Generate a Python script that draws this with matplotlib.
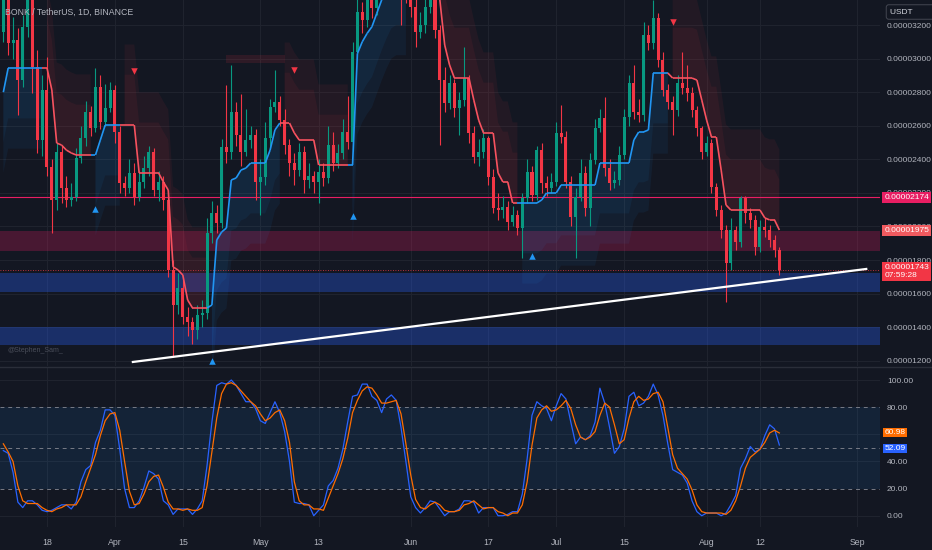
import matplotlib
matplotlib.use("Agg")
import matplotlib.pyplot as plt
from matplotlib.lines import Line2D
from matplotlib.patches import Rectangle
import matplotlib.dates as mdates
import numpy as np
import pandas as pd

plt.rcParams['font.family'] = ['Liberation Sans', 'DejaVu Sans']

# BONK/USDT daily candles, prices in units of 1e-8 USDT
start_day = '2024-03-09'
open_ = [3158, 3408, 3093, 3111, 2872, 3188, 3397, 2950, 2515, 2813,
         2354, 2158, 2444, 2229, 2158, 2176, 2408, 2527, 2682, 2587,
         2831, 2622, 2706, 2813, 2563, 2259, 2229, 2319, 2176, 2265,
         2348, 2444, 2217, 2265, 2158, 1741, 1532, 1634, 1461, 1431,
         1384, 1473, 1485, 1961, 2080, 2021, 2473, 2444, 2682, 2545,
         2444, 2515, 2545, 2265, 2295, 2527, 2712, 2741, 2634, 2485,
         2378, 2336, 2444, 2277, 2301, 2265, 2324, 2289, 2485, 2378,
         2438, 2563, 2503, 3039, 3277, 3230, 3349, 3301, 3468, 3557,
         3617, 3528, 3647, 3498, 3438, 3307, 3158, 3200, 3307, 3367,
         3170, 2872, 2735, 2855, 2706, 2753, 2884, 2557, 2414, 2444,
         2527, 2295, 2110, 2098, 2116, 2027, 2068, 1991, 2170, 2324,
         2188, 2455, 2259, 2229, 2265, 2557, 2533, 2265, 2057, 2176,
         2319, 2110, 2396, 2587, 2646, 2348, 2259, 2277, 2426, 2652,
         2855, 2682, 2664, 3140, 3093, 3242, 2992, 2813, 2741, 2694,
         2855, 2825, 2795, 2694, 2587, 2444, 2497, 2235, 2098, 1979,
         1782, 1979, 1908, 2170, 2080, 2039, 1878, 1997, 1979, 1919,
         1860]
high = [3480, 3460, 3250, 3180, 3260, 3500, 3450, 3051, 2900, 3010,
        2400, 2500, 2480, 2300, 2260, 2470, 2600, 2750, 2720, 2944,
        2900, 2850, 2860, 2840, 2600, 2300, 2400, 2380, 2330, 2420,
        2480, 2470, 2330, 2300, 2200, 1800, 1720, 1700, 1520, 1460,
        1530, 1560, 2050, 2150, 2130, 2520, 2843, 2962, 2740, 2790,
        2700, 2600, 2580, 2400, 2620, 2760, 2932, 2780, 2700, 2520,
        2440, 2500, 2480, 2380, 2330, 2400, 2380, 2600, 2560, 2490,
        2640, 2780, 3100, 3380, 3340, 3420, 3450, 3560, 3650, 3720,
        3680, 3760, 3690, 3560, 3500, 3360, 3280, 3380, 3450, 3420,
        3200, 2950, 2900, 2880, 2800, 3069, 2900, 2600, 2520, 2580,
        2540, 2340, 2200, 2180, 2150, 2120, 2100, 2200, 2400, 2360,
        2480, 2500, 2300, 2320, 2620, 2724, 2570, 2300, 2230, 2400,
        2360, 2440, 2640, 2700, 2771, 2400, 2330, 2480, 2700, 2900,
        2960, 2760, 3218, 3200, 3349, 3270, 3040, 2850, 2780, 2900,
        3039, 2960, 2830, 2720, 2600, 2540, 2520, 2260, 2130, 2010,
        2050, 2000, 2180, 2180, 2110, 2070, 2040, 2050, 2010, 1950,
        1880]
low = [3100, 3020, 3000, 2664, 2831, 3130, 2795, 2438, 2420, 2300,
       1961, 2100, 2140, 2116, 2120, 2150, 2380, 2480, 2540, 2560,
       2580, 2600, 2680, 2500, 2200, 2180, 2200, 2128, 2150, 2230,
       2300, 2180, 2150, 2100, 1700, 1223, 1480, 1420, 1350, 1300,
       1330, 1400, 1450, 1900, 1960, 1990, 2380, 2400, 2480, 2360,
       2420, 2470, 2158, 2068, 2250, 2470, 2680, 2600, 2430, 2300,
       2250, 2300, 2200, 2230, 2200, 2140, 2240, 2260, 2330, 2350,
       2400, 2460, 2450, 2990, 3150, 3190, 3240, 3260, 3420, 3500,
       3460, 3480, 3200, 3330, 3250, 3069, 3120, 3150, 3270, 3120,
       2485, 2680, 2700, 2650, 2545, 2720, 2500, 2380, 2360, 2410,
       2250, 2080, 2040, 2050, 1980, 2000, 1950, 1812, 2140, 2150,
       2160, 2200, 2180, 2200, 2240, 2500, 2230, 2000, 1812, 2150,
       2060, 2000, 2370, 2560, 2300, 2220, 2230, 2250, 2400, 2600,
       2640, 2620, 2630, 3050, 3060, 2950, 2780, 2700, 2545, 2660,
       2790, 2750, 2650, 2540, 2400, 2420, 2200, 2060, 1930, 1550,
       1740, 1860, 1880, 2020, 1990, 1830, 1850, 1940, 1880, 1820,
       1711]
close = [3408, 3093, 3111, 2872, 3188, 3397, 2950, 2515, 2813, 2354,
         2158, 2444, 2229, 2158, 2176, 2408, 2527, 2682, 2587, 2831,
         2622, 2706, 2813, 2563, 2259, 2229, 2319, 2176, 2265, 2348,
         2444, 2217, 2265, 2158, 1741, 1532, 1634, 1461, 1431, 1384,
         1473, 1485, 1961, 2080, 2021, 2473, 2444, 2682, 2545, 2444,
         2515, 2545, 2265, 2295, 2527, 2712, 2741, 2634, 2485, 2378,
         2336, 2444, 2277, 2301, 2265, 2324, 2289, 2485, 2378, 2438,
         2563, 2503, 3039, 3277, 3230, 3349, 3301, 3468, 3557, 3617,
         3528, 3647, 3498, 3438, 3307, 3158, 3200, 3307, 3367, 3170,
         2872, 2735, 2855, 2706, 2753, 2884, 2557, 2414, 2444, 2527,
         2295, 2110, 2098, 2116, 2027, 2068, 1991, 2170, 2324, 2188,
         2455, 2259, 2229, 2265, 2557, 2533, 2265, 2057, 2176, 2319,
         2110, 2396, 2587, 2646, 2348, 2259, 2277, 2426, 2652, 2855,
         2682, 2664, 3140, 3093, 3242, 2992, 2813, 2741, 2694, 2855,
         2825, 2795, 2694, 2587, 2444, 2497, 2235, 2098, 1979, 1782,
         1979, 1908, 2170, 2080, 2039, 1878, 1997, 1979, 1919, 1860,
         1743]

# trailing stop line (supertrend style) and its direction, 1 = up, -1 = down
st_val = [2800, 2944, 2944, 2944, 2944, 2944, 2944, 2944, 2944, 2944,
          2813, 2497, 2485, 2455, 2438, 2426, 2426, 2426, 2426, 2426,
          2515, 2604, 2604, 2604, 2604, 2604, 2604, 2604, 2319, 2319,
          2319, 2319, 2319, 2265, 2217, 1759, 1741, 1711, 1562, 1515,
          1515, 1515, 1515, 1532, 1919, 1967, 1991, 2277, 2289, 2336,
          2348, 2378, 2378, 2378, 2378, 2455, 2575, 2616, 2616, 2616,
          2557, 2515, 2515, 2515, 2515, 2366, 2366, 2366, 2366, 2366,
          2366, 2366, 2366, 3030, 3100, 3150, 3190, 3270, 3349, 3420,
          3480, 3500, 3500, 3500, 3800, 3800, 3700, 3650, 3600, 3450,
          3349, 3081, 2962, 2884, 2884, 2884, 2884, 2753, 2634, 2557,
          2557, 2557, 2319, 2265, 2265, 2140, 2140, 2140, 2140, 2140,
          2140, 2158, 2200, 2200, 2200, 2247, 2247, 2247, 2247, 2247,
          2247, 2247, 2247, 2378, 2378, 2378, 2378, 2378, 2378, 2378,
          2515, 2563, 2563, 2575, 2914, 2914, 2914, 2914, 2884, 2884,
          2884, 2884, 2884, 2872, 2753, 2634, 2533, 2533, 2336, 2128,
          2098, 2098, 2098, 2098, 2098, 2098, 2098, 2051, 2039, 2039,
          1979]
st_dir = [1, 1, 1, 1, 1, 1, 1, 1, 1, -1,
          -1, -1, -1, -1, -1, -1, -1, -1, -1, 1,
          1, 1, 1, 1, 1, -1, -1, -1, -1, -1,
          -1, -1, -1, -1, -1, -1, -1, -1, -1, -1,
          -1, -1, -1, 1, 1, 1, 1, 1, 1, 1,
          1, 1, 1, 1, 1, 1, 1, 1, -1, -1,
          -1, -1, -1, -1, -1, -1, -1, -1, -1, -1,
          -1, -1, 1, 1, 1, 1, 1, 1, 1, 1,
          1, 1, 1, 1, -1, -1, -1, -1, -1, -1,
          -1, -1, -1, -1, -1, -1, -1, -1, -1, -1,
          -1, -1, -1, -1, -1, -1, -1, 1, 1, 1,
          1, 1, 1, 1, 1, 1, 1, 1, 1, 1,
          1, 1, 1, 1, 1, 1, 1, 1, 1, 1,
          1, 1, 1, 1, 1, 1, 1, 1, -1, -1,
          -1, -1, -1, -1, -1, -1, -1, -1, -1, -1,
          -1, -1, -1, -1, -1, -1, -1, -1, -1, -1,
          -1]

# Stochastic RSI
stoch_k = [48, 46, 32, 10, 6, 11, 11, 8, 4, 3,
           4, 6, 8, 8, 5, 10, 25, 34, 37, 54,
           63, 78, 78, 74, 49, 20, 6, 6, 11, 21,
           33, 31, 27, 11, 8, 1, 5, 5, 5, 1,
           5, 11, 37, 69, 96, 98, 97, 100, 96, 90,
           84, 84, 79, 70, 68, 76, 84, 76, 62, 40,
           10, 9, 9, 8, 0, 4, 8, 22, 26, 35,
           49, 69, 88, 89, 97, 97, 88, 85, 76, 86,
           89, 85, 65, 40, 14, 6, 2, 6, 11, 10,
           5, 0, 3, 3, 5, 11, 11, 10, 2, 6,
           6, 6, 0, 0, 1, 3, 3, 16, 42, 74,
           84, 81, 79, 70, 81, 90, 86, 69, 53, 58,
           56, 59, 69, 94, 83, 65, 46, 51, 64, 88,
           91, 81, 83, 88, 97, 89, 74, 53, 34, 32,
           30, 24, 11, 3, 0, 2, 2, 2, 0, 2,
           8, 15, 35, 42, 51, 47, 49, 59, 67, 64,
           52.09]
stoch_d = [53, 47, 40, 22, 11, 9, 9, 9, 6, 4,
           3, 5, 6, 8, 8, 8, 14, 25, 35, 45,
           59, 70, 75, 76, 63, 40, 18, 8, 9, 16,
           25, 29, 30, 21, 10, 5, 5, 4, 5, 4,
           4, 6, 22, 47, 72, 90, 97, 98, 96, 92,
           88, 84, 81, 75, 70, 72, 76, 78, 70, 54,
           25, 11, 8, 8, 5, 5, 4, 13, 22, 31,
           42, 57, 76, 85, 92, 95, 94, 89, 83, 83,
           84, 85, 75, 53, 30, 12, 6, 5, 8, 10,
           8, 4, 3, 3, 4, 8, 9, 11, 8, 5,
           6, 6, 3, 2, 0, 2, 2, 8, 25, 52,
           72, 78, 81, 77, 78, 81, 85, 79, 67, 58,
           56, 58, 62, 74, 83, 80, 67, 53, 56, 72,
           84, 88, 85, 86, 90, 91, 84, 65, 45, 35,
           31, 27, 19, 8, 3, 2, 2, 2, 2, 1,
           4, 11, 22, 35, 43, 46, 49, 54, 61, 63,
           60.98]

buy_days = ['2024-03-28', '2024-04-21', '2024-05-20', '2024-06-26']
buy_px = [2104, 1199, 2062, 1824]
sell_days = ['2024-04-05', '2024-05-08', '2024-07-25']
sell_px = [2926, 2932, 3218]

trend_days = ['2024-04-04 17:00', '2024-09-02 22:00']
trend_px = [1193, 1747]

resist_line = 2174
red_zone = (1855, 1975)
blue_zones = [(1610, 1723), (1294, 1401)]
last_px = 1743

tick_days = ['2024-03-18', '2024-04-01', '2024-04-15', '2024-05-01', '2024-05-13', '2024-06-01',
             '2024-06-17', '2024-07-01', '2024-07-15', '2024-08-01', '2024-08-12', '2024-09-01']
tick_names = ['18', 'Apr', '15', 'May', '13', 'Jun', '17', 'Jul', '15', 'Aug', '12', 'Sep']

BG = '#131722'
GRID = '#20242f'
TXT = '#b2b5be'
UP = '#089981'
DOWN = '#f23645'

n = min(len(open_), len(high), len(low), len(close), len(st_val), len(st_dir), len(stoch_k), len(stoch_d))
dates = pd.date_range(start_day, periods=n, freq='D')
x = mdates.date2num(dates)
o = np.array(open_[:n], float)
h = np.array(high[:n], float)
l = np.array(low[:n], float)
c = np.array(close[:n], float)
st = np.array(st_val[:n], float)
sd = np.array(st_dir[:n])

fig = plt.figure(figsize=(9.32, 5.5), dpi=100, facecolor=BG)
W, H = 932, 550
ax1 = fig.add_axes([0, 184 / H, 880 / W, 366 / H], facecolor=BG)
ax2 = fig.add_axes([0, 23 / H, 880 / W, 160 / H], facecolor=BG)

xmin = mdates.date2num(pd.Timestamp('2024-03-08 07:30'))
xmax = mdates.date2num(pd.Timestamp('2024-09-05 18:00'))
tick_x = mdates.date2num(pd.to_datetime(tick_days))

for ax in (ax1, ax2):
    ax.set_xlim(xmin, xmax)
    for s in ax.spines.values():
        s.set_visible(False)
    ax.set_xticks(tick_x)
    ax.grid(True, color=GRID, lw=0.7)
    ax.set_axisbelow(True)
    ax.yaxis.tick_right()
    ax.tick_params(axis='y', length=0, pad=5, labelsize=6, labelcolor=TXT)

# ---------- price panel ----------
ax1.set_ylim(1169, 3349)
pticks = list(range(1200, 3201, 200))
ax1.set_yticks(pticks)
ax1.set_yticklabels([f"{v * 1e-8:.8f}" for v in pticks])
ax1.tick_params(axis='x', length=0, labelbottom=False)

ax1.axhspan(*red_zone, color='#e91e63', alpha=0.25, lw=0, zorder=1)
for z in blue_zones:
    ax1.axhspan(*z, color='#2962ff', alpha=0.32, lw=0, zorder=1)
ax1.axhline(resist_line, color='#e91e63', lw=0.8, zorder=2)
ax1.axhline(last_px, color=DOWN, lw=0.6, ls=(0, (1, 2)), zorder=2)

# clouds around the trailing line, two layers for a softer edge
for cloud, a in ((480, 0.07), (300, 0.07)):
    ax1.fill_between(x, st, st + cloud, where=sd < 0, color=DOWN, alpha=a, lw=0, zorder=1)
    ax1.fill_between(x, st - cloud, st, where=sd > 0, color='#2196f3', alpha=a, lw=0, zorder=1)

# faint drawn box
ax1.add_patch(Rectangle((mdates.date2num(pd.Timestamp('2024-04-24')), 2973),
                        12, 50, color=DOWN, alpha=0.12, lw=0, zorder=1))

# candles
col = np.where(c >= o, UP, DOWN)
ax1.vlines(x, l, h, colors=col, lw=0.8, zorder=3)
body_lo = np.minimum(o, c)
body_h = np.maximum(np.abs(c - o), 8)
ax1.bar(x, body_h, bottom=body_lo, width=0.62, color=col, lw=0, zorder=4)

# trailing line, coloured by direction
for i in range(1, n):
    ax1.plot(x[i - 1:i + 1], st[i - 1:i + 1], color='#2196f3' if sd[i] > 0 else '#f7525f',
             lw=1.2, zorder=5, solid_capstyle='butt')

ax1.scatter(mdates.date2num(pd.to_datetime(buy_days)), buy_px, marker='^', s=22,
            color='#2196f3', lw=0, zorder=6)
ax1.scatter(mdates.date2num(pd.to_datetime(sell_days)), sell_px, marker='v', s=22,
            color=DOWN, lw=0, zorder=6)

ax1.plot(mdates.date2num(pd.to_datetime(trend_days)), trend_px, color='white', lw=1.6, zorder=7)

ax1.text(8 / 880, 0.041, '@Stephen_Sam_', transform=ax1.transAxes, color='#4a4e5a',
         fontsize=5, va='center')

tr1 = ax1.get_yaxis_transform()
tag = dict(fontsize=6, color='white', transform=tr1, clip_on=False, zorder=20, ha='left')
ax1.text(1.005, resist_line, f"{resist_line * 1e-8:.8f}", va='center',
         bbox=dict(boxstyle='square,pad=0.25', fc='#e91e63', ec='none'), **tag)
ax1.text(1.005, red_zone[1], f"{red_zone[1] * 1e-8:.8f}", va='center',
         bbox=dict(boxstyle='square,pad=0.25', fc='#f05a5f', ec='none'), **tag)
ax1.text(1.005, last_px + 36, f"{last_px * 1e-8:.8f}\n07:59:28", va='top', linespacing=1.3,
         bbox=dict(boxstyle='square,pad=0.25', fc=DOWN, ec='none'), **tag)

# ---------- stochastic panel ----------
ax2.set_ylim(-8.3, 109.6)
sticks = [0, 20, 40, 80, 100]   # 60.00 sits under the value tags
ax2.set_yticks(sticks)
ax2.set_yticklabels([f"{v:.2f}" for v in sticks])
ax2.yaxis.grid(False)
for v in (0, 40, 60, 100):
    ax2.axhline(v, color=GRID, lw=0.7, zorder=0)
ax2.axhspan(20, 80, color='#2196f3', alpha=0.1, lw=0, zorder=1)
for v in (80, 50, 20):
    ax2.axhline(v, color='#787b86', lw=0.7, ls=(0, (4, 4)), zorder=2)

ax2.plot(x, stoch_k[:n], color='#2962ff', lw=0.9, zorder=4)
ax2.plot(x, stoch_d[:n], color='#ff6d00', lw=0.9, zorder=5)

tr2 = ax2.get_yaxis_transform()
ax2.text(1.005, stoch_d[n - 1] + 0.5, f"{stoch_d[n - 1]:.2f}", va='center', ha='left', fontsize=6,
         color='white', transform=tr2, clip_on=False, zorder=20,
         bbox=dict(boxstyle='square,pad=0.15', fc='#ff6d00', ec='none'))
ax2.text(1.005, stoch_k[n - 1] - 2.5, f"{stoch_k[n - 1]:.2f}", va='center', ha='left', fontsize=6,
         color='white', transform=tr2, clip_on=False, zorder=20,
         bbox=dict(boxstyle='square,pad=0.15', fc='#2962ff', ec='none'))

ax2.set_xticklabels(tick_names)
ax2.tick_params(axis='x', length=0, pad=8, labelsize=6.3, labelcolor=TXT)

# separator, title, currency box
fig.add_artist(Line2D([0, 1], [1 - 366.5 / H, 1 - 366.5 / H], color='#2a2e39', lw=1))
fig.text(5 / W, 1 - 12 / H, 'BONK / TetherUS, 1D, BINANCE', color=TXT, fontsize=6.3, va='center')
fig.text(890 / W, 1 - 12 / H, 'USDT        ', color='#d1d4dc', fontsize=6, va='center',
         bbox=dict(boxstyle='round,pad=0.45,rounding_size=0.3', fc=BG, ec='#434651', lw=0.7))

fig.savefig('out.png', dpi=100, facecolor=BG)
